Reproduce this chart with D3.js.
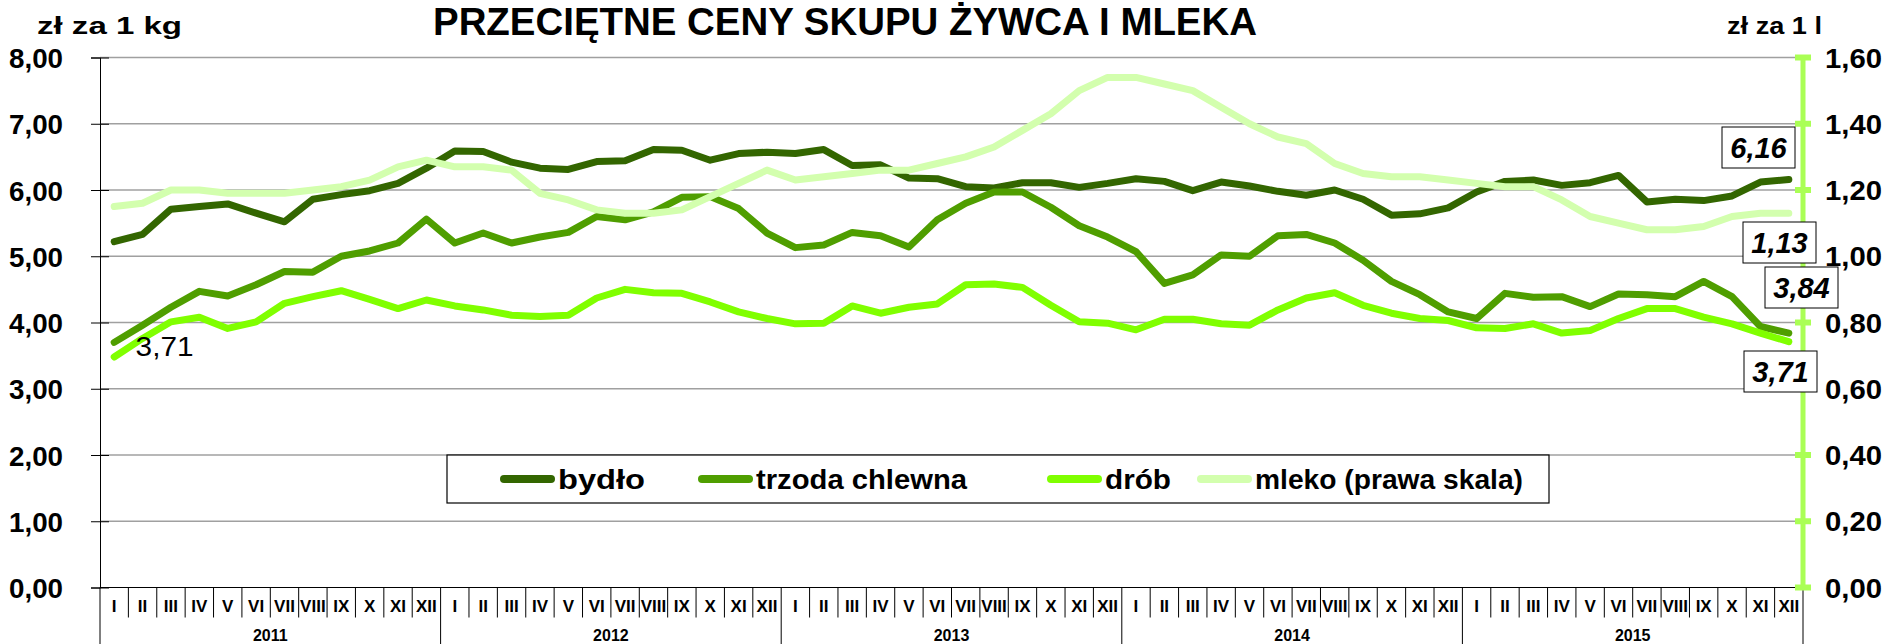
<!DOCTYPE html>
<meta charset="utf-8">
<style>
body {
  margin: 0;
  background: #fff;
  font-family: "Liberation Sans", Arial, sans-serif;
}
text {
  font-weight: bold;
  fill: #000;
}
.grid line {
  stroke: #a0a0a0;
  stroke-width: 1.3;
}
.series {
  fill: none;
  stroke-width: 7;
  stroke-linejoin: round;
  stroke-linecap: round;
}
</style>
<body>
<script src="https://cdn.jsdelivr.net/npm/d3@7"></script>
<script>

var width = 1893,
    height = 644;

var margin = {top: 57.5, right: 90, bottom: 56.5, left: 100};

// months and years of the category axis
var months = ["I", "II", "III", "IV", "V", "VI", "VII", "VIII", "IX", "X", "XI", "XII"];
var years = ["2011", "2012", "2013", "2014", "2015"];

// zł za 1 kg (left scale)
var bydlo = [
  5.22, 5.33, 5.71, 5.75, 5.79, 5.65, 5.52, 5.86, 5.93, 5.99, 6.10, 6.33,
  6.59, 6.58, 6.42, 6.33, 6.31, 6.43, 6.44, 6.61, 6.60, 6.45, 6.55, 6.57,
  6.55, 6.61, 6.37, 6.38, 6.18, 6.17, 6.05, 6.03, 6.11, 6.11, 6.04, 6.10,
  6.17, 6.13, 5.99, 6.12, 6.06, 5.98, 5.92, 6.00, 5.86, 5.62, 5.64, 5.73,
  5.97, 6.13, 6.15, 6.07, 6.11, 6.22, 5.82, 5.86, 5.84, 5.91, 6.12, 6.16
];
var trzoda = [
  3.70, 3.96, 4.23, 4.47, 4.40, 4.57, 4.77, 4.76, 5.00, 5.08, 5.20, 5.56,
  5.20, 5.35, 5.20, 5.29, 5.36, 5.60, 5.55, 5.67, 5.89, 5.90, 5.72, 5.35,
  5.13, 5.17, 5.36, 5.31, 5.14, 5.55, 5.80, 5.97, 5.97, 5.74, 5.46, 5.29,
  5.07, 4.59, 4.72, 5.02, 5.00, 5.31, 5.33, 5.20, 4.94, 4.62, 4.42, 4.16,
  4.06, 4.44, 4.38, 4.39, 4.24, 4.43, 4.42, 4.39, 4.62, 4.39, 3.94, 3.84
];
var drob = [
  3.48, 3.76, 4.01, 4.08, 3.91, 4.01, 4.29, 4.39, 4.48, 4.35, 4.21, 4.34,
  4.25, 4.19, 4.11, 4.09, 4.11, 4.37, 4.50, 4.45, 4.44, 4.31, 4.16, 4.06,
  3.98, 3.99, 4.25, 4.14, 4.23, 4.28, 4.57, 4.58, 4.53, 4.26, 4.01, 3.99,
  3.89, 4.05, 4.05, 3.98, 3.96, 4.19, 4.37, 4.45, 4.26, 4.14, 4.06, 4.03,
  3.92, 3.91, 3.98, 3.84, 3.88, 4.06, 4.21, 4.21, 4.08, 3.98, 3.84, 3.71
];
// zł za 1 l (right scale)
var mleko = [
  1.15, 1.16, 1.20, 1.20, 1.19, 1.19, 1.19, 1.20, 1.21, 1.23, 1.27, 1.29,
  1.27, 1.27, 1.26, 1.19, 1.17, 1.14, 1.13, 1.13, 1.14, 1.18, 1.22, 1.26,
  1.23, 1.24, 1.25, 1.26, 1.26, 1.28, 1.30, 1.33, 1.38, 1.43, 1.50, 1.54,
  1.54, 1.52, 1.50, 1.45, 1.40, 1.36, 1.34, 1.28, 1.25, 1.24, 1.24, 1.23,
  1.22, 1.21, 1.21, 1.17, 1.12, 1.10, 1.08, 1.08, 1.09, 1.12, 1.13, 1.13
];

var leftTicks = [0, 1, 2, 3, 4, 5, 6, 7, 8];
var rightTicks = [0, 0.2, 0.4, 0.6, 0.8, 1.0, 1.2, 1.4, 1.6];

var seriesNames = ["bydło", "trzoda chlewna", "drób", "mleko (prawa skala)"];
var seriesColors = ["#336600", "#4f9e00", "#80ff00", "#d3ffae"];

var fmt = function(v, n) { return d3.format("." + n + "f")(v).replace(".", ","); };

// squeeze or stretch a text to a given width (the original font is narrower and taller)
function fit(sel, w) {
  sel.attr("textLength", w).attr("lengthAdjust", "spacingAndGlyphs");
}

var svg = d3.select("body").append("svg")
    .attr("width", width)
    .attr("height", height)
    .style("display", "block");

var x = d3.scaleBand()
    .domain(d3.range(years.length * months.length))
    .range([margin.left, width - margin.right]);

var y = d3.scaleLinear().domain([0, 8]).range([height - margin.bottom, margin.top]);
var y2 = d3.scaleLinear().domain([0, 1.6]).range([height - margin.bottom, margin.top]);

var cx = function(i) { return x(i) + x.bandwidth() / 2; };

// grid
svg.append("g")
    .attr("class", "grid")
  .selectAll("line")
  .data(leftTicks.slice(1))
  .enter().append("line")
    .attr("x1", margin.left)
    .attr("x2", width - margin.right)
    .attr("y1", function(d) { return y(d); })
    .attr("y2", function(d) { return y(d); });

// left axis
var gLeft = svg.append("g")
    .attr("transform", "translate(" + margin.left + ",0)")
    .call(d3.axisLeft(y).tickValues(leftTicks).tickSize(9).tickPadding(28)
      .tickFormat(function(d) { return fmt(d, 2); }));
gLeft.select(".domain").attr("stroke", "#000");
gLeft.selectAll(".tick line").attr("x2", -9).attr("x1", 9).attr("stroke", "#000");
gLeft.selectAll(".tick text")
    .attr("font-family", "Liberation Sans, Arial, sans-serif")
    .attr("font-size", 28)
    .attr("dy", "0.36em")
    .call(fit, 54);

// category axis: months, years, separators
var xBase = y(0);
var gx = svg.append("g");
gx.append("line")
    .attr("x1", margin.left).attr("x2", width - margin.right)
    .attr("y1", xBase).attr("y2", xBase)
    .attr("stroke", "#000");

var bounds = d3.range(years.length * months.length + 1);
gx.selectAll(".sep")
  .data(bounds)
  .enter().append("line")
    .attr("class", "sep")
    .attr("x1", function(d) { return d < 60 ? x(d) : x.range()[1]; })
    .attr("x2", function(d) { return d < 60 ? x(d) : x.range()[1]; })
    .attr("y1", xBase)
    .attr("y2", function(d) { return d % 12 === 0 ? height : xBase + 30; })
    .attr("stroke", "#000")
    .attr("stroke-width", 1);

gx.selectAll(".month")
  .data(d3.range(60))
  .enter().append("text")
    .attr("class", "month")
    .attr("x", cx)
    .attr("y", xBase + 24)
    .attr("text-anchor", "middle")
    .attr("font-size", 17)
    .text(function(d) { return months[d % 12]; });

gx.selectAll(".year")
  .data(years)
  .enter().append("text")
    .attr("class", "year")
    .attr("x", function(d, i) { return (x(i * 12) + x(i * 12 + 11) + x.bandwidth()) / 2; })
    .attr("y", height - 3)
    .attr("text-anchor", "middle")
    .attr("font-size", 16)
    .text(function(d) { return d; });

// right axis
var rx = width - margin.right;
var gRight = svg.append("g");
gRight.append("line")
    .attr("x1", rx).attr("x2", rx)
    .attr("y1", y2(0) + 2).attr("y2", y2(1.6) - 2)
    .attr("stroke", "#aaff55")
    .attr("stroke-width", 5);
gRight.selectAll(".rt")
  .data(rightTicks)
  .enter().append("line")
    .attr("x1", rx - 8).attr("x2", rx + 8)
    .attr("y1", function(d) { return y2(d); })
    .attr("y2", function(d) { return y2(d); })
    .attr("stroke", "#aaff55")
    .attr("stroke-width", 6);
gRight.selectAll(".rl")
  .data(rightTicks)
  .enter().append("text")
    .attr("x", rx + 22)
    .attr("y", function(d) { return y2(d); })
    .attr("dy", "0.36em")
    .attr("font-size", 28)
    .text(function(d) { return fmt(d, 2); })
    .call(fit, 57);

// series
var line = d3.line()
    .x(function(d, i) { return cx(i); })
    .y(function(d) { return y(d); });
var line2 = d3.line()
    .x(function(d, i) { return cx(i); })
    .y(function(d) { return y2(d); });

var gLines = svg.append("g");
[bydlo, trzoda, drob].forEach(function(s, k) {
  gLines.append("path")
      .datum(s)
      .attr("class", "series")
      .attr("stroke", seriesColors[k])
      .attr("d", line);
});
gLines.append("path")
    .datum(mleko)
    .attr("class", "series")
    .attr("stroke", seriesColors[3])
    .attr("d", line2);

// plain label near the start of drób
svg.append("text")
    .attr("x", cx(1) - 7)
    .attr("y", y(drob[1]) + 18)
    .attr("font-size", 27)
    .style("font-weight", "normal")
    .text(fmt(drob[drob.length - 1], 2))
    .call(fit, 58);

// boxed labels of the last values
var last = drob.length - 1;
var boxes = [
  {v: bydlo[last], n: 2, bx: 1722, by: 127},
  {v: mleko[last], n: 2, bx: 1743, by: 222},
  {v: trzoda[last], n: 2, bx: 1765, by: 267},
  {v: drob[last], n: 2, bx: 1744, by: 351}
];
var gBox = svg.append("g");
boxes.forEach(function(b) {
  gBox.append("rect")
      .attr("x", b.bx).attr("y", b.by)
      .attr("width", 73).attr("height", 41)
      .attr("fill", "#fff")
      .attr("stroke", "#000")
      .attr("stroke-width", 1);
  gBox.append("text")
      .attr("x", b.bx + 36.5)
      .attr("y", b.by + 31)
      .attr("text-anchor", "middle")
      .attr("font-size", 29)
      .style("font-style", "italic")
      .text(fmt(b.v, b.n));
});

// legend
var legend = svg.append("g");
legend.append("rect")
    .attr("x", 447).attr("y", 455)
    .attr("width", 1102).attr("height", 48)
    .attr("fill", "#fff")
    .attr("stroke", "#000")
    .attr("stroke-width", 1.2);
var legendX = [501, 699, 1048, 1198];
var legendW = [87, 211, 66, 268];
seriesNames.forEach(function(name, k) {
  legend.append("line")
      .attr("x1", legendX[k] + 3).attr("x2", legendX[k] + 50)
      .attr("y1", 479).attr("y2", 479)
      .attr("stroke", seriesColors[k])
      .attr("stroke-width", 8)
      .attr("stroke-linecap", "round");
  legend.append("text")
      .attr("x", legendX[k] + 57)
      .attr("y", 489)
      .attr("font-size", 28)
      .text(name)
      .call(fit, legendW[k]);
});

// titles
svg.append("text")
    .attr("x", 433)
    .attr("y", 35)
    .attr("font-size", 39)
    .text("PRZECIĘTNE CENY SKUPU ŻYWCA I MLEKA")
    .call(fit, 824);
svg.append("text")
    .attr("x", 37)
    .attr("y", 34)
    .attr("font-size", 24)
    .text("zł za 1 kg")
    .call(fit, 145);
svg.append("text")
    .attr("x", 1727)
    .attr("y", 34)
    .attr("font-size", 24)
    .text("zł za 1 l")
    .call(fit, 95);

</script>
